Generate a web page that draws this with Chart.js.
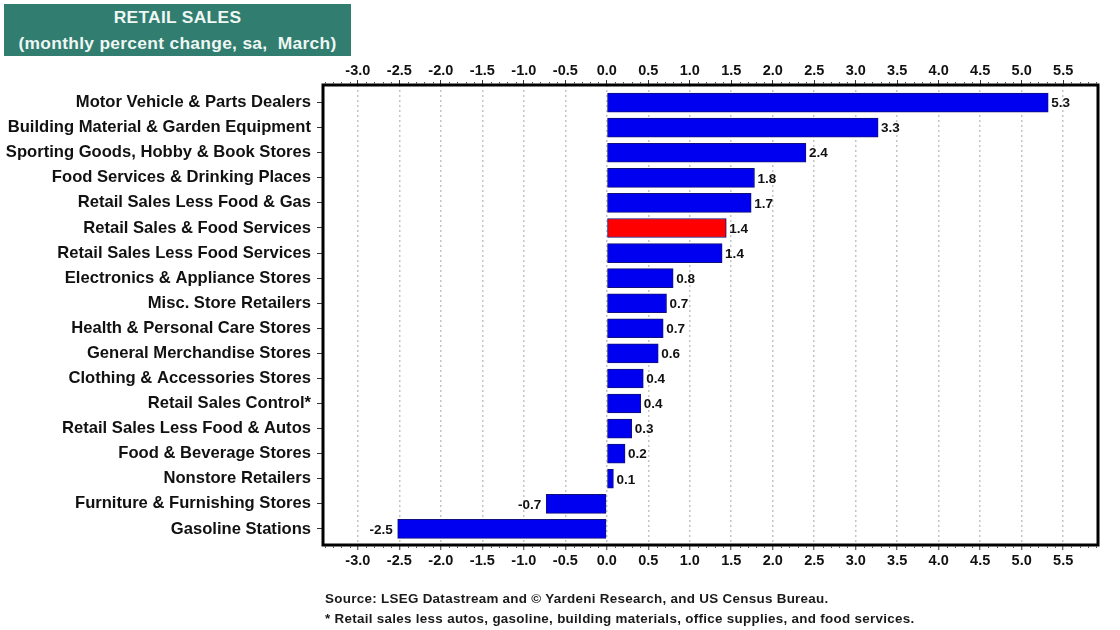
<!DOCTYPE html>
<html>
<head>
<meta charset="utf-8">
<title>Retail Sales</title>
<script src="https://cdn.jsdelivr.net/npm/chart.js@4"></script>
<style>
  html, body { margin: 0; padding: 0; background: #fff; overflow: hidden; }
  #wrap { position: relative; width: 1120px; height: 630px; font-family: "Liberation Sans", Arial, sans-serif; font-weight: bold; }
  #myChart { position: absolute; left: 0; top: 0; }
  #banner { position: absolute; left: 4px; top: 4px; width: 347px; height: 52px; background: #317d70; color: #eef7f3; font-size: 17.4px; line-height: 26px; text-align: center; white-space: pre; letter-spacing: 0.3px; }
  .note { position: absolute; left: 325px; font-size: 13.4px; color: #1a1a1a; white-space: pre; letter-spacing: 0.3px; }
</style>
</head>
<body>
<div id="wrap">
  <canvas id="myChart" width="1120" height="630"></canvas>
  <div id="banner">RETAIL SALES
(monthly percent change, sa,  March)</div>
  <div class="note" style="top:591px">Source: LSEG Datastream and © Yardeni Research, and US Census Bureau.</div>
  <div class="note" style="top:611px">* Retail sales less autos, gasoline, building materials, office supplies, and food services.</div>
</div>
<script>
var categories = [
  'Motor Vehicle & Parts Dealers',
  'Building Material & Garden Equipment',
  'Sporting Goods, Hobby & Book Stores',
  'Food Services & Drinking Places',
  'Retail Sales Less Food & Gas',
  'Retail Sales & Food Services',
  'Retail Sales Less Food Services',
  'Electronics & Appliance Stores',
  'Misc. Store Retailers',
  'Health & Personal Care Stores',
  'General Merchandise Stores',
  'Clothing & Accessories Stores',
  'Retail Sales Control*',
  'Retail Sales Less Food & Autos',
  'Food & Beverage Stores',
  'Nonstore Retailers',
  'Furniture & Furnishing Stores',
  'Gasoline Stations'
];
var values = [5.32, 3.27, 2.4, 1.78, 1.74, 1.44, 1.39, 0.8, 0.72, 0.68, 0.62, 0.44, 0.41, 0.3, 0.22, 0.08, -0.73, -2.52];
var highlighted = 'Retail Sales & Food Services';
var minorTicks = [];
for (var t = -34; t <= 59; t++) {
  if (t % 5 !== 0) minorTicks.push(t / 10);
}

// frame, small ticks on the value axes and the labels at the end of each bar
var extras = {
  id: 'extras',
  afterDatasetsDraw: function(chart) {
    var ctx = chart.ctx, area = chart.chartArea;
    ctx.save();

    ctx.strokeStyle = '#000';
    ctx.lineWidth = 3;
    ctx.strokeRect(area.left, area.top, area.right - area.left, area.bottom - area.top);

    ctx.strokeStyle = '#555';
    ctx.lineWidth = 1;
    ctx.beginPath();
    minorTicks.forEach(function(v) {
      var px = Math.round(chart.scales.x.getPixelForValue(v)) + 0.5;
      ctx.moveTo(px, area.top - 3);
      ctx.lineTo(px, area.top - 1);
      ctx.moveTo(px, area.bottom + 1);
      ctx.lineTo(px, area.bottom + 3);
    });
    ctx.stroke();

    ctx.fillStyle = '#111';
    ctx.font = 'bold 13.5px "Liberation Sans", Arial, sans-serif';
    ctx.textBaseline = 'middle';
    chart.getDatasetMeta(0).data.forEach(function(bar, i) {
      var v = values[i];
      ctx.textAlign = v < 0 ? 'right' : 'left';
      ctx.fillText(v.toFixed(1), bar.x + (v < 0 ? -5 : 3), bar.y + 1);
    });
    ctx.restore();
  }
};

function xTicks(pad) {
  return {
    stepSize: 0.5,
    includeBounds: false,
    color: '#111',
    padding: pad,
    maxRotation: 0,
    autoSkip: false,
    font: { family: '"Liberation Sans", Arial, sans-serif', size: 14.5, weight: 'bold' },
    callback: function(v) { return Number(v).toFixed(1); }
  };
}

var ctx = document.getElementById('myChart').getContext('2d');
var chart = new Chart(ctx, {
  type: 'bar',
  plugins: [extras],
  data: {
    datasets: [{
      data: values.map(function(v, i) { return { x: v, y: i }; }),
      backgroundColor: categories.map(function(c) { return c === highlighted ? '#ff0000' : '#0000f0'; }),
      borderColor: '#10107a',
      borderWidth: 1,
      borderSkipped: false,
      barThickness: 19
    }]
  },
  options: {
    indexAxis: 'y',
    responsive: false,
    animation: false,
    layout: { padding: { left: 0, right: 22, top: 0, bottom: 0 } },
    plugins: { legend: { display: false }, tooltip: { enabled: false } },
    scales: {
      x: {
        type: 'linear', position: 'bottom', min: -3.42, max: 5.92,
        ticks: xTicks(2),
        border: { display: false, dash: [2, 3] },
        grid: { color: '#c4c4c4', lineWidth: 1.5, tickColor: '#333', tickBorderDash: [], tickWidth: 1, tickLength: 5 },
        afterFit: function(scale) { scale.height = 85; }
      },
      x2: {
        type: 'linear', axis: 'x', position: 'top', min: -3.42, max: 5.92,
        ticks: xTicks(0),
        border: { display: false },
        grid: { drawOnChartArea: false, tickColor: '#333', tickLength: 5 },
        afterFit: function(scale) { scale.height = 85; }
      },
      y: {
        type: 'linear', reverse: true, min: -0.7, max: 17.64, offset: false,
        afterBuildTicks: function(scale) {
          scale.ticks = categories.map(function(c, i) { return { value: i }; });
        },
        ticks: {
          autoSkip: false,
          color: '#111',
          padding: 6,
          font: { family: '"Liberation Sans", Arial, sans-serif', size: 16.6, weight: 'bold' },
          callback: function(v) { return categories[v]; }
        },
        border: { display: false },
        grid: { offset: false, drawOnChartArea: false, tickColor: '#333', tickLength: 6 },
        afterFit: function(scale) { scale.width = 323; }
      }
    }
  }
});
</script>
</body>
</html>
